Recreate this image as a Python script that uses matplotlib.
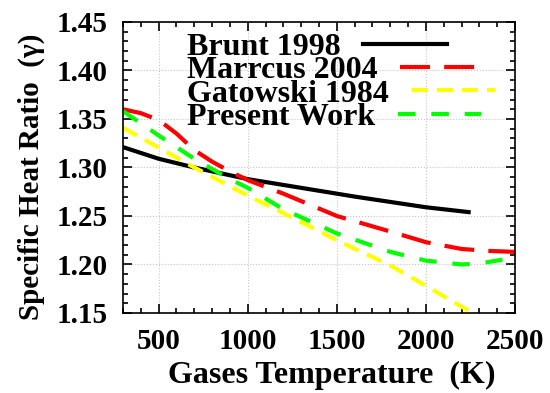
import matplotlib
matplotlib.use("Agg")
import matplotlib.pyplot as plt
from matplotlib.ticker import MultipleLocator, FormatStrFormatter

# values
brunt_T = [300, 500, 700, 1000, 1300, 1600, 2000, 2240]
brunt_g = [1.321, 1.309, 1.300, 1.288, 1.279, 1.270, 1.259, 1.254]

marrcus_T = [300, 400, 500, 600, 700, 800, 900, 1000, 1200, 1500, 1800, 2000, 2200, 2350, 2500]
marrcus_g = [1.360, 1.356, 1.349, 1.335, 1.318, 1.306, 1.296, 1.287, 1.273, 1.250,
             1.234, 1.223, 1.216, 1.214, 1.213]

gatowski_T = [300, 700, 1000, 1200, 1500, 1800, 2000, 2280]
gatowski_g = [1.341, 1.300, 1.271, 1.253, 1.225, 1.199, 1.178, 1.148]

present_T = [300, 500, 700, 900, 1000, 1200, 1500, 1800, 2000, 2200, 2300, 2430]
present_g = [1.358, 1.333, 1.309, 1.288, 1.279, 1.257, 1.232, 1.213, 1.204, 1.200, 1.201, 1.205]

plt.rcParams['font.family'] = ['Liberation Serif', 'DejaVu Serif']
plt.rcParams['font.weight'] = 'bold'

fig = plt.figure(figsize=(5.5, 3.93), dpi=100)
ax = fig.add_axes([0.2236, 0.2036, 0.7127, 0.7405])

ax.plot(brunt_T, brunt_g, color='black', lw=3, label='Brunt 1998')
ax.plot(marrcus_T, marrcus_g, color='#ff0000', lw=3, dashes=(7.2, 3.4), label='Marrcus 2004')
ax.plot(gatowski_T, gatowski_g, color='#ffff00', lw=3, dashes=(3.8, 2.2), label='Gatowski 1984')
ax.plot(present_T, present_g, color='#00ff00', lw=3, dashes=(4.2, 3.8), label='Present Work')

ax.set_xlim(300, 2500)
ax.set_ylim(1.15, 1.45)
ax.xaxis.set_major_locator(MultipleLocator(500))
ax.xaxis.set_minor_locator(MultipleLocator(100))
ax.yaxis.set_major_locator(MultipleLocator(0.05))
ax.yaxis.set_minor_locator(MultipleLocator(0.01))
ax.yaxis.set_major_formatter(FormatStrFormatter('%.2f'))

ax.tick_params(which='both', direction='in', top=True, right=True, width=1.2)
ax.tick_params(which='major', length=6.5, labelsize=21, pad=11)
ax.tick_params(which='minor', length=3.6)
for s in ax.spines.values():
    s.set_linewidth(1.2)

ax.grid(True, which='major', color='#c4c4c4', linestyle=':', linewidth=0.8)

ax.set_xlabel('Gases Temperature  (K)', fontsize=23, fontweight='bold')
ax.xaxis.set_label_coords(0.533, -0.165)
ax.set_ylabel('Specific Heat Ratio  (\u03b3)', fontsize=21, fontweight='bold')
ax.yaxis.set_label_coords(-0.199, 0.467)

leg = ax.legend(loc='upper left', bbox_to_anchor=(0.148, 0.985), frameon=False,
                markerfirst=False, fontsize=23, labelspacing=-0.19,
                handlelength=2.6, handletextpad=0.7, borderpad=0.2, borderaxespad=0)
# left-align the rows so each sample follows its text
for col in leg._legend_handle_box.get_children():
    col.align = 'left'

fig.savefig('out.png', dpi=100)
